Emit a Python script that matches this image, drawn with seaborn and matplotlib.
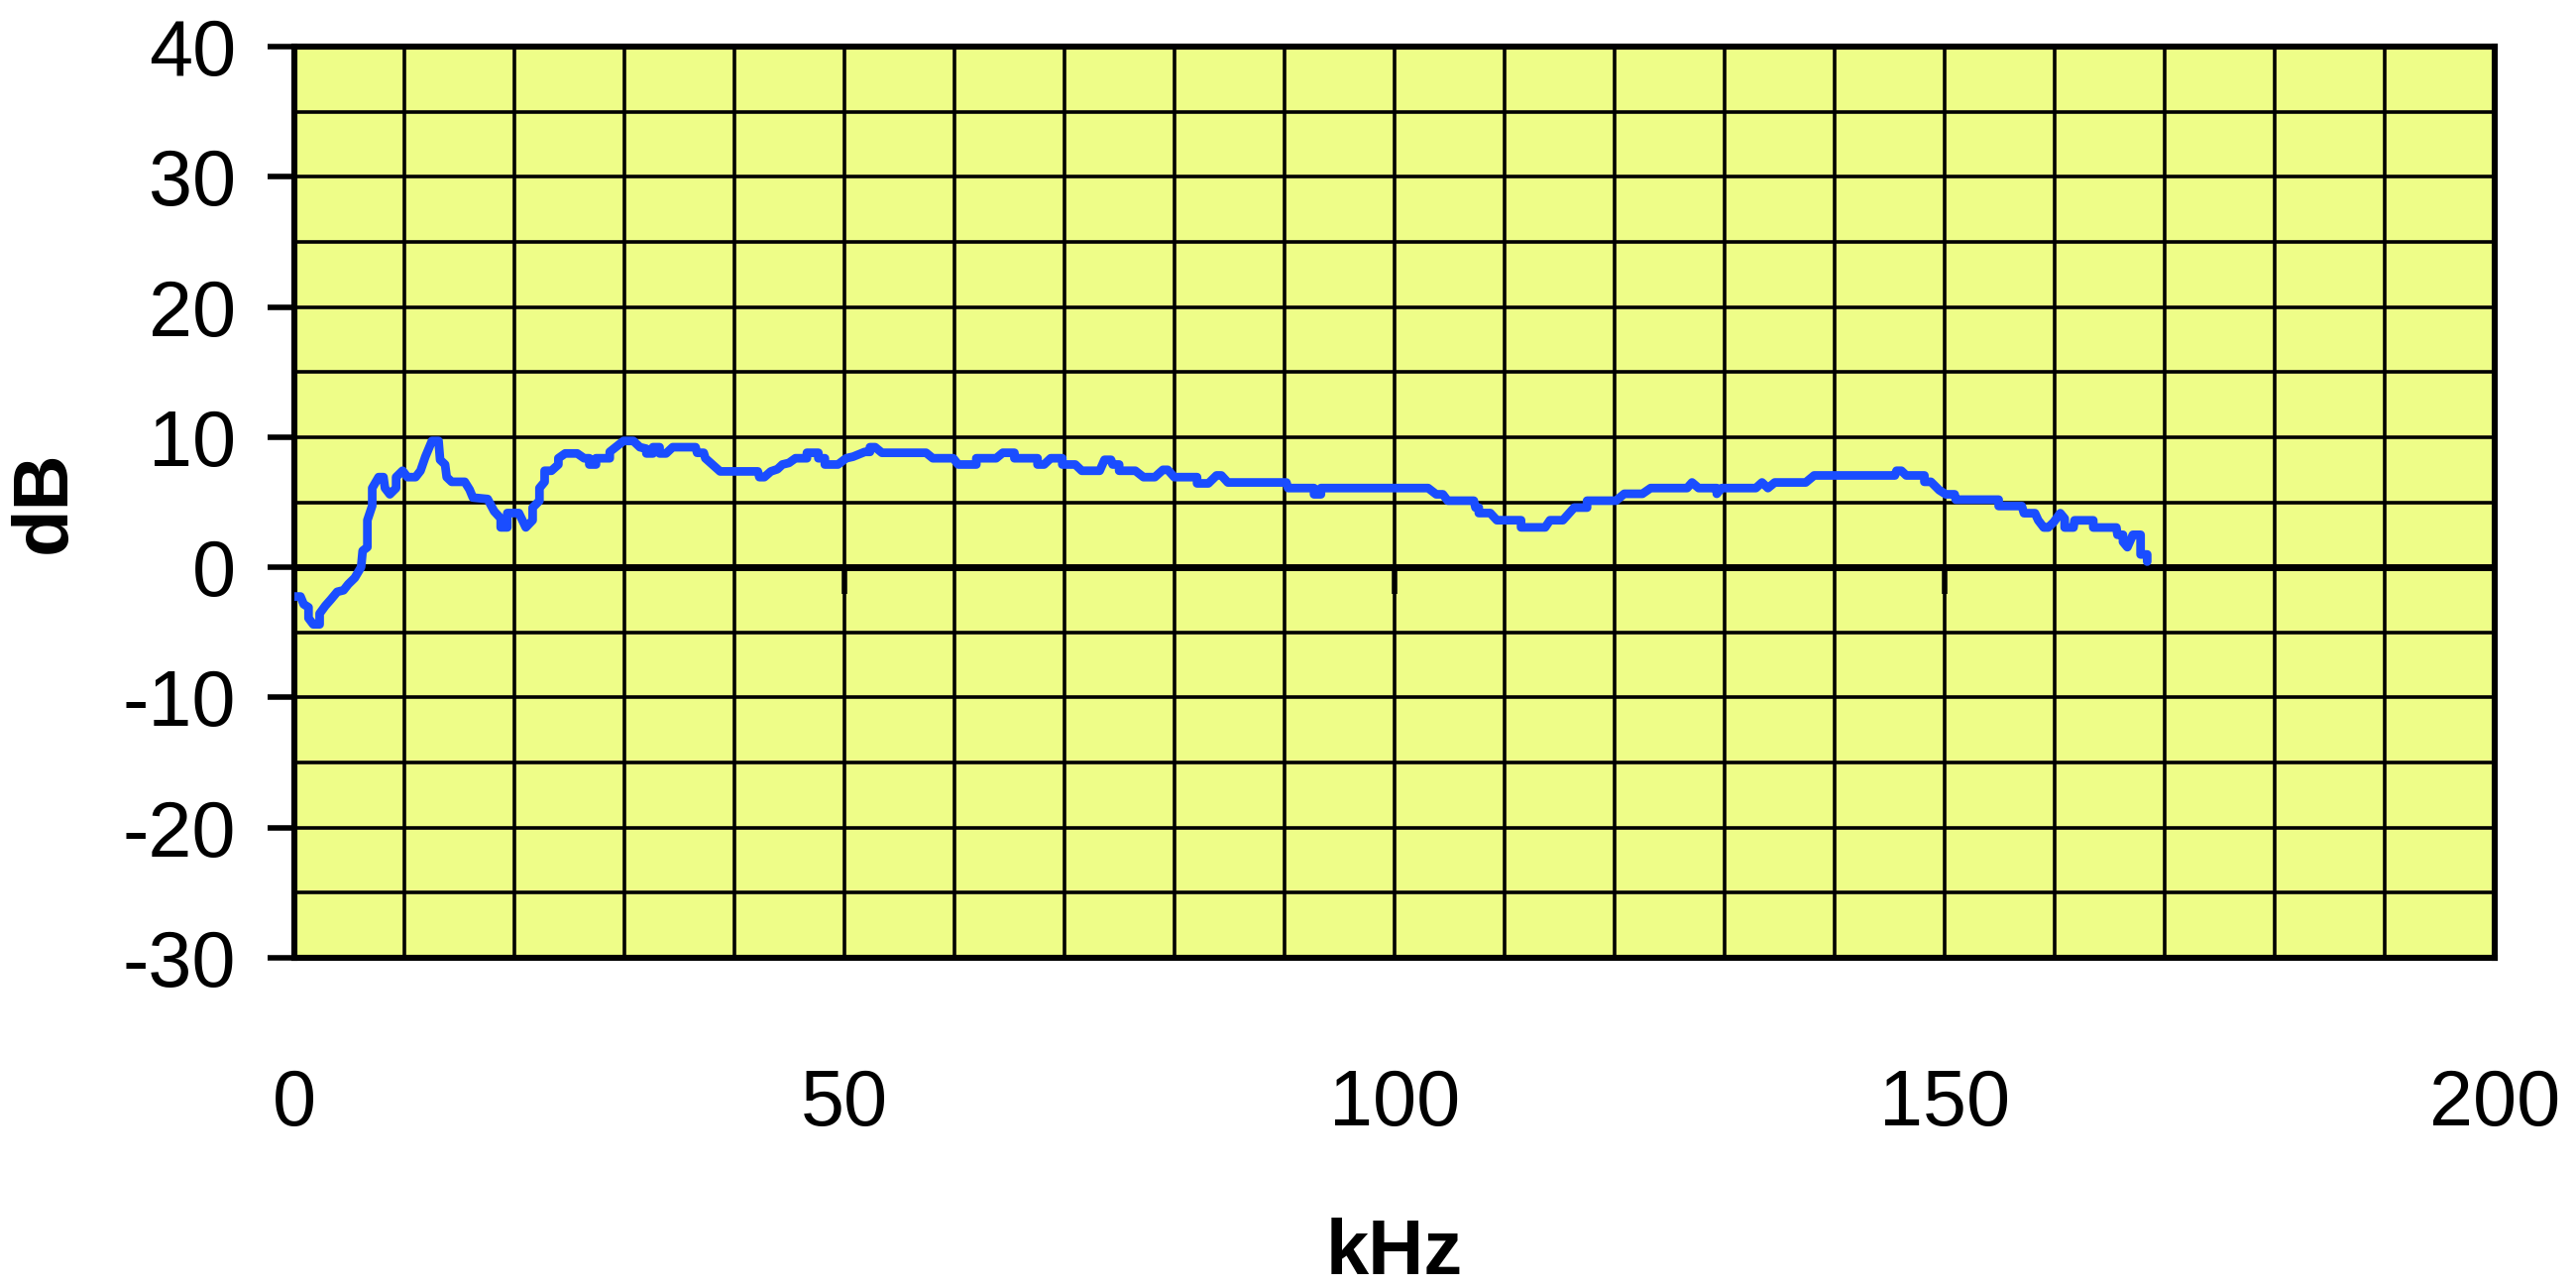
import matplotlib
matplotlib.use("Agg")
import matplotlib.pyplot as plt
from matplotlib.ticker import MultipleLocator
import pandas as pd
import seaborn as sns

# frequency response trace, stepped
freq_khz = [
    0.0, 0.55, 0.84, 1.28, 1.28, 1.71, 2.29, 2.29, 2.81, 3.3, 3.89, 4.46, 4.9, 5.48,
    6.06, 6.2, 6.63, 6.63, 7.07, 7.07, 7.65, 8.09, 8.23, 8.67, 9.24, 9.24, 9.83,
    10.27, 11.01, 11.46, 11.9, 12.5, 13.1, 13.24, 13.69, 13.84, 14.29, 15.48, 15.92,
    16.22, 17.56, 18.15, 18.75, 18.75, 19.35, 19.35, 20.4, 21.03, 21.65, 21.65,
    22.27, 22.27, 22.74, 22.74, 23.36, 23.99, 23.99, 24.61, 25.7, 26.33, 26.8, 26.8,
    27.41, 27.41, 28.66, 28.66, 29.91, 30.8, 31.4, 31.99, 31.99, 32.59, 32.59, 33.19,
    33.19, 33.78, 34.38, 36.46, 36.6, 37.2, 37.35, 38.69, 42.12, 42.26, 42.71, 43.3,
    43.9, 44.35, 44.94, 45.54, 46.58, 46.58, 47.62, 47.62, 48.21, 48.21, 49.4, 50.15,
    50.77, 51.85, 52.31, 52.31, 52.78, 53.4, 57.41, 58.02, 59.88, 60.33, 61.98, 61.98,
    63.78, 64.38, 65.44, 65.44, 67.54, 67.54, 68.14, 68.74, 69.79, 69.79, 70.97, 71.56,
    73.19, 73.63, 74.22, 74.37, 74.96, 74.96, 76.43, 77.17, 78.2, 78.94, 79.38, 79.97,
    82.04, 82.04, 83.07, 83.81, 84.25, 84.84, 90.16, 90.31, 92.67, 92.67, 93.3, 93.3,
    103.04, 103.78, 104.38, 104.82, 107.2, 107.35, 107.65, 107.65, 108.69, 109.29,
    111.49, 111.49, 113.68, 114.12, 115.29, 116.32, 117.49, 117.49, 120.12, 120.87,
    122.52, 123.27, 126.58, 127.03, 127.63, 129.28, 129.28, 129.73, 132.83, 133.39,
    133.93, 134.55, 137.36, 138.13, 145.47, 145.62, 146.06, 146.5, 148.15, 148.15,
    148.74, 149.5, 150.1, 150.9, 151.0, 154.9, 154.9, 157.0, 157.2, 158.2, 158.5,
    159.0, 159.4, 159.9, 160.5, 160.9, 160.9, 161.7, 161.8, 163.5, 163.5, 165.6,
    165.7, 166.2, 166.2, 166.6, 167.1, 167.8, 167.8, 168.4, 168.4,
]
level_db = [
    -2.24, -2.24, -2.83, -3.07, -3.9, -4.38, -4.38, -3.55, -2.95, -2.48, -1.88, -1.76,
    -1.29, -0.81, 0.02, 1.27, 1.55, 3.62, 4.73, 6.09, 6.93, 6.93, 6.09, 5.61, 6.09,
    6.93, 7.42, 6.93, 6.93, 7.42, 8.5, 9.71, 9.71, 8.26, 7.9, 6.93, 6.57, 6.57, 5.97,
    5.36, 5.25, 4.31, 3.76, 3.07, 3.07, 4.17, 4.17, 3.07, 3.62, 4.59, 5.12, 6.09,
    6.57, 7.42, 7.42, 7.9, 8.38, 8.75, 8.75, 8.38, 8.38, 7.9, 7.9, 8.38, 8.38, 8.87,
    9.71, 9.71, 9.23, 9.11, 8.75, 8.75, 9.23, 9.23, 8.75, 8.75, 9.23, 9.23, 8.8, 8.8,
    8.38, 7.37, 7.37, 6.93, 6.93, 7.37, 7.54, 7.9, 8.02, 8.38, 8.38, 8.8, 8.8, 8.38,
    8.38, 7.9, 7.9, 8.38, 8.5, 8.87, 8.87, 9.23, 9.23, 8.8, 8.8, 8.38, 8.38, 7.9,
    7.9, 8.38, 8.38, 8.8, 8.8, 8.38, 8.38, 7.9, 7.9, 8.38, 8.38, 7.9, 7.9, 7.42,
    7.42, 8.26, 8.26, 7.9, 7.9, 7.42, 7.42, 6.93, 6.93, 7.49, 7.49, 6.93, 6.93, 6.45,
    6.45, 7.06, 7.06, 6.52, 6.52, 6.09, 6.09, 5.61, 5.61, 6.09, 6.09, 5.61, 5.61,
    5.12, 5.12, 4.59, 4.59, 4.17, 4.17, 3.62, 3.62, 3.07, 3.07, 3.62, 3.62, 4.59,
    4.59, 5.12, 5.12, 5.65, 5.65, 6.09, 6.09, 6.52, 6.09, 6.09, 5.65, 6.09, 6.09,
    6.52, 6.09, 6.52, 6.52, 7.06, 7.06, 7.42, 7.42, 7.06, 7.06, 6.57, 6.57, 5.93,
    5.61, 5.61, 5.2, 5.2, 4.71, 4.71, 4.16, 4.16, 3.61, 3.06, 3.06, 3.47, 4.16, 3.75,
    3.06, 3.06, 3.61, 3.61, 3.06, 3.06, 2.5, 2.5, 1.96, 1.55, 2.5, 2.5, 0.99, 0.99,
    0.44,
]

x_ticks = [0, 50, 100, 150, 200]
y_ticks = [-30, -20, -10, 0, 10, 20, 30, 40]
zero_ticks = [50, 100, 150]

sns.set_theme(style="white")
plt.rcParams["font.family"] = ["Liberation Sans", "DejaVu Sans"]
plt.rcParams["axes.unicode_minus"] = False

fig = plt.figure(figsize=(25.99, 12.99), dpi=100)
ax = fig.add_axes([0.1143, 0.2563, 0.8542, 0.7075])
ax.set_facecolor("#EEFD88")

df = pd.DataFrame({"kHz": freq_khz, "dB": level_db})
sns.lineplot(data=df, x="kHz", y="dB", sort=False, estimator=None,
             color="#1A4DFF", ax=ax, zorder=4)
# heavy trace like the original
for line in ax.lines:
    line.set_linewidth(6.3)
    line.set_solid_joinstyle("round")
    line.set_solid_capstyle("round")

ax.set_xlim(0, 200)
ax.set_ylim(-30, 40)
ax.set_xticks(x_ticks)
ax.set_yticks(y_ticks)
ax.xaxis.set_minor_locator(MultipleLocator(10))
ax.yaxis.set_minor_locator(MultipleLocator(5))
ax.grid(True, which="both", color="black", linewidth=2.6)
ax.set_axisbelow(True)

ax.tick_params(axis="y", which="major", direction="out", length=19.5, width=4.0,
               pad=23, labelsize=57, left=True, color="black", labelcolor="black")
ax.tick_params(axis="y", which="minor", length=0)
ax.tick_params(axis="x", which="both", length=0, pad=80, labelsize=57, labelcolor="black")
for s in ax.spines.values():
    s.set_linewidth(4.4)
    s.set_color("black")

# zero line with its own little ticks (axis crosses at 0 dB)
ax.axhline(0, color="black", linewidth=5.0, zorder=3)
ax_zero = ax.twiny()
ax_zero.set_xlim(0, 200)
for s in ax_zero.spines.values():
    s.set_visible(False)
ax_zero.spines["bottom"].set_position(("data", 0))
ax_zero.xaxis.set_ticks_position("bottom")
ax_zero.set_xticks(zero_ticks)
ax_zero.tick_params(axis="x", direction="out", length=19.5, width=4.0, color="black",
                    labelbottom=False, labeltop=False)
ax_zero.grid(False)

ax.set_xlabel("kHz", fontsize=56, fontweight="bold", color="black")
ax.xaxis.set_label_coords(0.5, -0.285)
ax.set_ylabel("dB", fontsize=56, fontweight="bold", color="black")
ax.yaxis.set_label_coords(-0.097, 0.5)

fig.savefig("out.png", dpi=100, facecolor="white")
